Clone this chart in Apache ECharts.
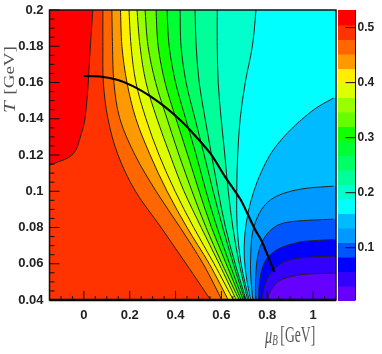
<!DOCTYPE html>
<html lang="en">
<head>
    <meta charset="UTF-8"/>
    <title>T - muB contour</title>
    <script src="https://cdn.jsdelivr.net/npm/echarts@6/dist/echarts.min.js"></script>
    <style>
        html, body { margin: 0; padding: 0; background: #fff; }
    </style>
</head>
<body>

<div id="main" style="width:382px; height:354px;"></div>
<script type="text/javascript">

    // contour lines, [muB, T]
    var level01 = [[-0.15,0.1144],[-0.114,0.1161],[-0.079,0.1178],[-0.052,0.12],[-0.031,0.1238],[-0.013,0.131],[0.004,0.1393],[0.017,0.1558],[0.026,0.1752],[0.039,0.2]];
    var level02 = [[0.083,0.2],[0.083,0.18],[0.085,0.16],[0.105,0.14],[0.149,0.12],[0.225,0.1],[0.337,0.08],[0.446,0.06],[0.553,0.04]];
    var level03 = [[0.122,0.2],[0.125,0.18],[0.131,0.16],[0.157,0.14],[0.223,0.12],[0.315,0.1],[0.42,0.08],[0.52,0.06],[0.602,0.04]];
    var level04 = [[0.16,0.2],[0.166,0.18],[0.188,0.16],[0.227,0.14],[0.289,0.12],[0.363,0.1],[0.45,0.08],[0.547,0.06],[0.63,0.04]];
    var level05 = [[0.197,0.2],[0.206,0.18],[0.227,0.16],[0.271,0.14],[0.328,0.12],[0.398,0.1],[0.479,0.08],[0.568,0.06],[0.652,0.04]];
    var level06 = [[0.232,0.2],[0.245,0.18],[0.271,0.16],[0.319,0.14],[0.376,0.12],[0.437,0.1],[0.512,0.08],[0.59,0.06],[0.665,0.04]];
    var level07 = [[0.267,0.2],[0.28,0.18],[0.313,0.16],[0.363,0.14],[0.415,0.12],[0.472,0.1],[0.533,0.08],[0.603,0.06],[0.678,0.04]];
    var level08 = [[0.315,0.2],[0.324,0.18],[0.354,0.16],[0.402,0.14],[0.453,0.12],[0.503,0.1],[0.557,0.08],[0.621,0.06],[0.686,0.04]];
    var level09 = [[0.363,0.2],[0.372,0.18],[0.4,0.16],[0.444,0.14],[0.49,0.12],[0.533,0.1],[0.581,0.08],[0.636,0.06],[0.695,0.04]];
    var level10 = [[0.42,0.2],[0.424,0.18],[0.446,0.16],[0.485,0.14],[0.525,0.12],[0.564,0.1],[0.606,0.08],[0.652,0.06],[0.702,0.04]];
    var level11 = [[0.485,0.2],[0.49,0.18],[0.503,0.16],[0.529,0.14],[0.557,0.12],[0.586,0.1],[0.618,0.08],[0.66,0.06],[0.708,0.04]];
    var level12 = [[0.582,0.2],[0.582,0.18],[0.586,0.16],[0.599,0.14],[0.615,0.12],[0.63,0.1],[0.65,0.08],[0.678,0.06],[0.715,0.04]];
    var level13 = [[0.751,0.2],[0.735,0.18],[0.704,0.16],[0.682,0.14],[0.671,0.12],[0.667,0.1],[0.669,0.08],[0.686,0.06],[0.721,0.04]];
    var level14 = [[1.089,0.1514],[1.001,0.1448],[0.901,0.1338],[0.826,0.1227],[0.778,0.1117],[0.743,0.1006],[0.717,0.0885],[0.702,0.0758],[0.7,0.0631],[0.711,0.051],[0.728,0.04]];
    var level15 = [[1.089,0.1028],[0.975,0.1017],[0.888,0.0995],[0.826,0.0962],[0.783,0.0913],[0.752,0.0841],[0.734,0.0758],[0.728,0.0648],[0.728,0.0537],[0.737,0.04]];
    var level16 = [[1.089,0.0846],[0.944,0.0837],[0.87,0.0824],[0.826,0.0797],[0.792,0.0752],[0.77,0.0697],[0.757,0.0631],[0.75,0.0537],[0.748,0.04]];
    var level17 = [[1.093,0.0734],[0.975,0.0725],[0.923,0.0714],[0.866,0.0692],[0.822,0.0659],[0.791,0.0614],[0.774,0.0554],[0.765,0.0482],[0.763,0.04]];
    var level18 = [[1.093,0.0642],[0.988,0.0637],[0.923,0.0628],[0.879,0.0614],[0.84,0.0581],[0.809,0.0537],[0.791,0.0487],[0.783,0.0443],[0.778,0.04]];
    var level19 = [[1.093,0.0548],[0.975,0.0543],[0.923,0.0534],[0.879,0.0521],[0.844,0.0499],[0.822,0.0466],[0.809,0.0436],[0.802,0.04]];

    // thick freeze-out curve
    var freezeOut = [[0,0.1636],[0.07,0.1633],[0.149,0.1614],[0.214,0.158],[0.289,0.1525],[0.354,0.1465],[0.42,0.1393],[0.463,0.1338],[0.551,0.121],[0.617,0.1078],[0.682,0.0957],[0.713,0.0879],[0.748,0.0786],[0.774,0.073],[0.805,0.0637],[0.831,0.0554]];

    var muMin = -0.15, muMax = 1.1, tMin = 0.04, tMax = 0.2;
    var xMajor = [0, 0.2, 0.4, 0.6, 0.8, 1];
    var xMinor = [-0.1,-0.05,0.05,0.1,0.15,0.25,0.3,0.35,0.45,0.5,0.55,0.65,0.7,0.75,0.85,0.9,0.95,1.05];
    var yMajor = [0.04, 0.06, 0.08, 0.1, 0.12, 0.14, 0.16, 0.18, 0.2];
    var yMinor = [0.045,0.05,0.055,0.065,0.07,0.075,0.085,0.09,0.095,0.105,0.11,0.115,0.125,0.13,0.135,0.145,0.15,0.155,0.165,0.17,0.175,0.185,0.19,0.195];

    // colour scale, top band first
    var barEdges = [0.532,0.5056,0.4793,0.4529,0.4266,0.4002,0.3739,0.3475,0.3212,0.2948,0.2685,0.2421,0.2158,0.1894,0.1631,0.1367,0.1104,0.084,0.0577,0.0313,0.005];
    var barTicks = [0.1, 0.2, 0.3, 0.4, 0.5];
    var bandColors = ['#ff0000','#ff3300','#ff6600','#ff9900','#ffee00','#ddff00','#99ff00','#66ff00','#11ff00','#00ff33','#00ff66','#00ff99','#00ffcc','#00ffff','#00bbff','#0099ff','#0055ff','#0000ff','#3300ff','#6600ff'];

    var contours = [level01,level02,level03,level04,level05,level06,level07,level08,level09,level10,level11,level12,level13,level14,level15,level16,level17,level18,level19];

    var cornersTopLeft = [[muMin,tMax]];
    var cornersLeft = [[muMin,tMin],[muMin,tMax]];
    var cornersAll = [[muMin,tMin],[muMin,tMax],[muMax,tMax]];

    // how each contour closes round the frame to fill its high side
    function closing(i) {
        if (i === 0) return cornersTopLeft;
        if (i < 13) return cornersLeft;
        return cornersAll.concat([[muMax, contours[i][0][1]]]);
    }

    // smooth path through the read points
    function curvePath(p) {
        var d = 'M' + p[0][0] + ' ' + p[0][1];
        for (var i = 0; i < p.length - 1; i++) {
            var a = p[Math.max(i - 1, 0)], b = p[i], c = p[i + 1], e = p[Math.min(i + 2, p.length - 1)];
            d += 'C' + (b[0] + (c[0] - a[0]) / 6) + ' ' + (b[1] + (c[1] - a[1]) / 6) + ' ' +
                (c[0] - (e[0] - b[0]) / 6) + ' ' + (c[1] - (e[1] - b[1]) / 6) + ' ' + c[0] + ' ' + c[1];
        }
        return d;
    }

    // inside ticks drawn as marks above the fills: [x, y, dx, dy]
    function tickLine(params, api) {
        var p = api.coord([api.value(0), api.value(1)]);
        return {
            type: 'line',
            shape: {x1: p[0], y1: p[1], x2: p[0] + api.value(2), y2: p[1] + api.value(3)},
            style: {stroke: '#111', lineWidth: 1}
        };
    }
    var plotTicks = [].concat(
        xMinor.map(function(v) { return [v, tMin, 0, -4]; }),
        xMajor.map(function(v) { return [v, tMin, 0, -9]; }),
        yMinor.map(function(v) { return [muMin, v, 5, 0]; }),
        yMajor.map(function(v) { return [muMin, v, 10, 0]; })
    );

    // painted from the lowest level up, so each band covers the one below
    var fillOrder = [];
    for (var n = contours.length - 1; n >= 0; n--) fillOrder.push(n);

    var tickFont = {
        fontFamily: '"Liberation Sans Narrow", "Liberation Sans", sans-serif',
        fontWeight: 'bold',
        fontSize: 13,
        color: '#222'
    };

    var myChart = echarts.init(document.getElementById('main'), null, {renderer: 'canvas'});

    var option = {
        animation: false,
        backgroundColor: '#fff',
        grid: [
            {left: 49.5, top: 10, width: 286.5, height: 290},
            {left: 338, top: 10, width: 17.5, height: 290}
        ],
        xAxis: [
            {
                type: 'value', gridIndex: 0, min: muMin, max: muMax, position: 'bottom',
                splitLine: {show: false},
                axisLine: {show: false, onZero: false},
                axisTick: {show: false},
                axisLabel: Object.assign({customValues: xMajor, margin: 9}, tickFont)
            },
            {type: 'value', gridIndex: 1, min: 0, max: 1, show: false}
        ],
        yAxis: [
            {
                type: 'value', gridIndex: 0, min: tMin, max: tMax, position: 'left',
                splitLine: {show: false},
                axisLine: {show: false, onZero: false},
                axisTick: {show: false},
                axisLabel: Object.assign({customValues: yMajor, margin: 6, padding: [7, 0, 0, 0]}, tickFont)
            },
            {
                type: 'value', gridIndex: 1, min: barEdges[barEdges.length - 1], max: barEdges[0], position: 'right',
                splitLine: {show: false},
                axisLine: {show: false, onZero: false},
                axisTick: {show: false},
                axisLabel: Object.assign({}, tickFont, {customValues: barTicks, margin: 2, fontSize: 12, padding: [3, 0, 0, 0]})
            }
        ],
        graphic: [
            {
                type: 'text', x: 2, y: 113, rotation: Math.PI / 2, scaleY: 0.8, silent: true,
                style: {
                    text: '{i|T}  {n|[GeV]}',
                    rich: {
                        i: {fontFamily: 'Liberation Serif', fontStyle: 'italic', fontSize: 21, fill: '#555'},
                        n: {fontFamily: 'Liberation Serif', fontSize: 19, fill: '#555'}
                    }
                }
            },
            {
                type: 'text', x: 265, y: 324, scaleX: 0.76, scaleY: 1.25, silent: true,
                style: {
                    text: '{i|\u03bc}{s|B} {n|[GeV]}',
                    rich: {
                        i: {fontFamily: 'Liberation Serif', fontStyle: 'italic', fontSize: 19, fill: '#555'},
                        s: {fontFamily: 'Liberation Serif', fontStyle: 'italic', fontSize: 12, fill: '#555', verticalAlign: 'bottom', padding: [8, 0, 0, 0]},
                        n: {fontFamily: 'Liberation Serif', fontSize: 18, fill: '#555'}
                    }
                }
            }
        ],
        series: [
            {
                // plot background: lowest band
                type: 'custom', xAxisIndex: 0, yAxisIndex: 0, z: 1, silent: true, clip: true,
                data: [[muMin, tMin]],
                renderItem: function(params, api) {
                    var cs = params.coordSys;
                    return {type: 'rect', shape: {x: cs.x, y: cs.y, width: cs.width, height: cs.height},
                        style: {fill: bandColors[19]}};
                }
            },
            {
                // filled bands
                type: 'custom', xAxisIndex: 0, yAxisIndex: 0, z: 1, silent: true, clip: true,
                data: fillOrder.map(function(i) { return contours[i][0]; }),
                renderItem: function(params, api) {
                    var i = fillOrder[params.dataIndex];
                    var d = curvePath(contours[i].map(api.coord));
                    closing(i).forEach(function(c) {
                        var q = api.coord(c);
                        d += 'L' + q[0] + ' ' + q[1];
                    });
                    return {type: 'path', shape: {pathData: d + 'Z'}, style: {fill: bandColors[i], stroke: null}};
                }
            },
            {
                // thin contour lines on top of all the fills
                type: 'custom', xAxisIndex: 0, yAxisIndex: 0, z: 2, silent: true, clip: true,
                data: contours.map(function(c) { return c[0]; }),
                renderItem: function(params, api) {
                    return {
                        type: 'path',
                        shape: {pathData: curvePath(contours[params.dataIndex].map(api.coord))},
                        style: {fill: null, stroke: '#222', lineWidth: 1}
                    };
                }
            },
            {
                type: 'line', xAxisIndex: 0, yAxisIndex: 0, z: 3, silent: true,
                data: freezeOut, smooth: 0.3, showSymbol: false,
                lineStyle: {color: '#000', width: 2.2}
            },
            {
                // frame round the plot, heavier along the bottom
                type: 'custom', xAxisIndex: 0, yAxisIndex: 0, z: 4, silent: true, clip: false,
                data: [[muMin, tMin]],
                renderItem: function(params, api) {
                    var cs = params.coordSys;
                    return {type: 'group', children: [
                        {type: 'rect', shape: {x: cs.x, y: cs.y, width: cs.width, height: cs.height},
                            style: {fill: null, stroke: '#111', lineWidth: 1.5}},
                        {type: 'line', shape: {x1: cs.x, y1: cs.y + cs.height, x2: cs.x + cs.width, y2: cs.y + cs.height},
                            style: {stroke: '#000', lineWidth: 2.5}}
                    ]};
                }
            },
            {
                type: 'custom', xAxisIndex: 0, yAxisIndex: 0, z: 4, silent: true, clip: false,
                data: plotTicks,
                renderItem: tickLine
            },
            {
                // colour bar, each band run slightly into the next so no seam shows
                type: 'custom', xAxisIndex: 1, yAxisIndex: 1, z: 1, silent: true,
                data: bandColors.map(function(c, i) { return [0, barEdges[i]]; }).reverse(),
                renderItem: function(params, api) {
                    var i = bandColors.length - 1 - params.dataIndex;
                    var a = api.coord([0, barEdges[i]]), b = api.coord([1, barEdges[i + 1]]);
                    return {type: 'rect', shape: {x: a[0], y: a[1], width: b[0] - a[0], height: b[1] - a[1] + 1},
                        style: {fill: bandColors[i]}};
                }
            },
            {
                type: 'custom', xAxisIndex: 1, yAxisIndex: 1, z: 4, silent: true, clip: false,
                data: barTicks.map(function(v) { return [1, v, -10, 0]; }),
                renderItem: tickLine
            },
            {
                type: 'custom', xAxisIndex: 1, yAxisIndex: 1, z: 4, silent: true, clip: false,
                data: [[1, barEdges[0], 0, 290]],
                renderItem: tickLine
            }
        ]
    };

    myChart.setOption(option);
</script>

</body>
</html>
